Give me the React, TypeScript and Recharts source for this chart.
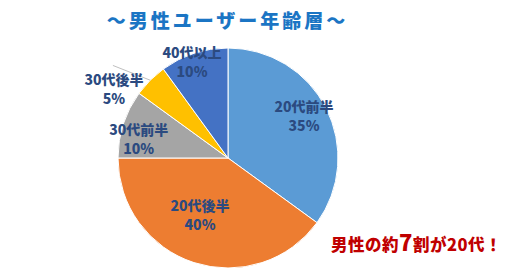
import { PieChart, Pie, Cell } from "recharts";

const categories = ["20代前半", "20代後半", "30代前半", "30代後半", "40代以上"];
const shares = [35, 40, 10, 5, 10];
const sliceColors = ["#5B9BD5", "#ED7D31", "#A5A5A5", "#FFC000", "#4472C4"];

// where each label sits: radius as a share of the pie radius, and a turn off the slice middle (deg)
const labelSpots = [
  { r: 0.79, turn: 2 },
  { r: 0.58, turn: -8 },
  { r: 0.83, turn: 6 },
  { r: 1.21, turn: 14 },
  { r: 0.93, turn: 2.6 },
];

const FONT = "'Noto Sans CJK JP', 'Noto Sans', sans-serif";
const RADIAN = Math.PI / 180;

const rows = categories.map((name, i) => ({ name, value: shares[i] }));

const renderLabel = (props: any) => {
  const { cx, cy, midAngle, outerRadius, index, name, value } = props;
  const spot = labelSpots[index];
  const a = (midAngle + spot.turn) * RADIAN;
  const x = cx + outerRadius * spot.r * Math.cos(a);
  const y = cy - outerRadius * spot.r * Math.sin(a);
  const edgeX = cx + outerRadius * Math.cos(midAngle * RADIAN);
  const edgeY = cy - outerRadius * Math.sin(midAngle * RADIAN);
  return (
    <g>
      {spot.r > 1 && (
        <line x1={x - 1} y1={y - 24} x2={edgeX} y2={edgeY} stroke="#BFBFBF" strokeWidth={1} />
      )}
      <text
        x={x}
        y={y}
        textAnchor="middle"
        fill="#2B4A80"
        fontFamily={FONT}
        fontWeight={900}
        fontSize={14}
      >
        <tspan x={x} dy={-4}>{name}</tspan>
        <tspan x={x} dy={19}>{value}%</tspan>
      </text>
    </g>
  );
};

export default function App() {
  return (
    <div style={{ position: "absolute", left: 0, top: 0, width: 518, height: 275, background: "#fff" }}>
      <PieChart width={518} height={275} margin={{ top: 0, right: 0, bottom: 0, left: 0 }}>
        <Pie
          data={rows}
          dataKey="value"
          nameKey="name"
          cx={228}
          cy={158}
          outerRadius={110}
          startAngle={90}
          endAngle={-270}
          stroke="#fff"
          strokeWidth={1}
          label={renderLabel}
          labelLine={false}
          isAnimationActive={false}
        >
          {rows.map((r, i) => (
            <Cell key={r.name} fill={sliceColors[i]} />
          ))}
        </Pie>
      </PieChart>
      <div
        style={{
          position: "absolute",
          left: 0,
          width: 455,
          top: 7,
          textAlign: "center",
          fontFamily: FONT,
          fontWeight: 900,
          fontSize: 19,
          letterSpacing: 3,
          color: "#1B75C4",
          lineHeight: "26px",
        }}
      >
        ～男性ユーザー年齢層～
      </div>
      <div
        style={{
          position: "absolute",
          left: 331,
          top: 229,
          fontFamily: FONT,
          fontWeight: 900,
          fontSize: 16.5,
          color: "#C00000",
          lineHeight: "24px",
          whiteSpace: "nowrap",
          letterSpacing: 0.5,
        }}
      >
        男性の約<span style={{ fontSize: 22 }}>7</span>割が20代！
      </div>
    </div>
  );
}
